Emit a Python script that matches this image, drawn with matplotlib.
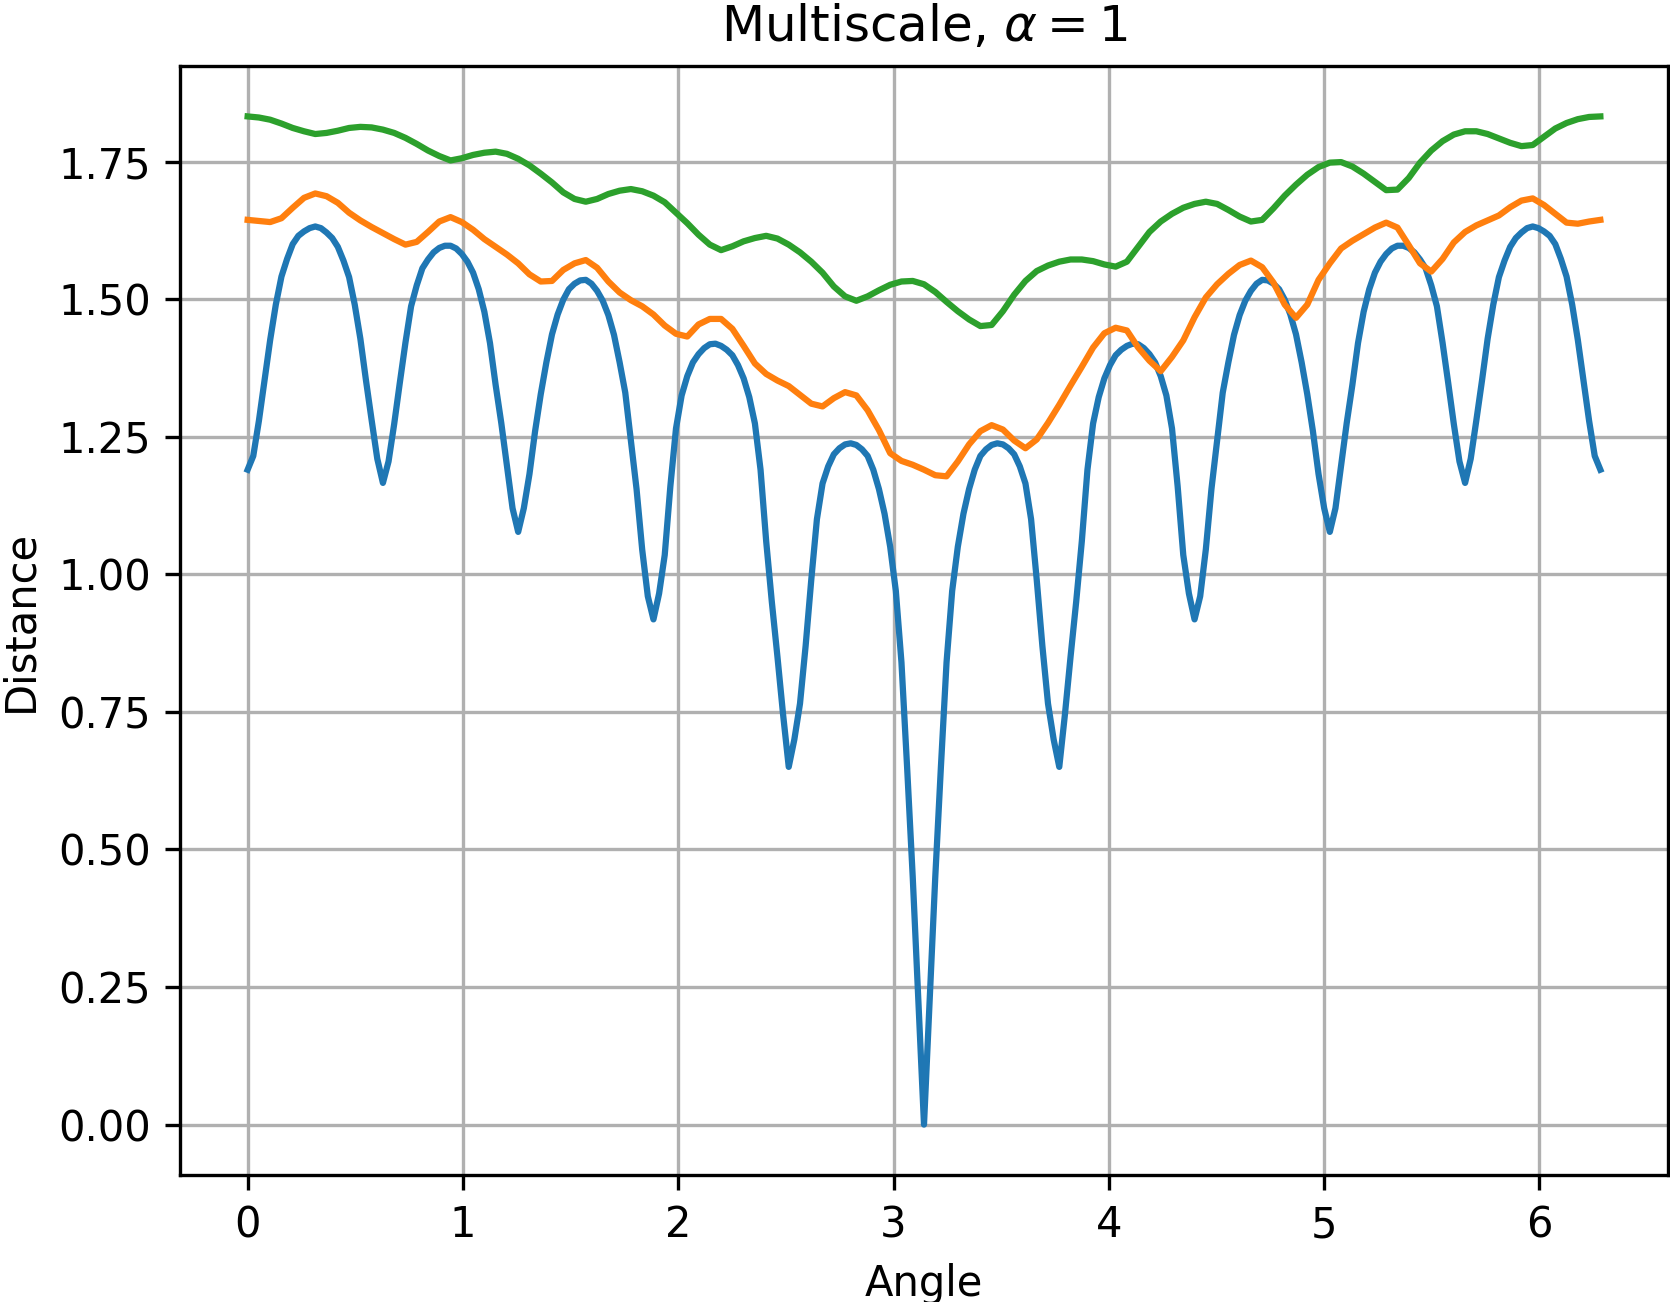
import numpy as np
import matplotlib
matplotlib.use("Agg")
import matplotlib.pyplot as plt

# angle grids over [0, 2*pi]
angles_fine = np.linspace(0, 2 * np.pi, 241)   # used for the blue curve
angles = np.linspace(0, 2 * np.pi, 121)        # used for orange / green

blue = [1.190, 1.215, 1.279, 1.352, 1.426, 1.490, 1.541, 1.573, 1.600, 1.615,
        1.623, 1.629, 1.632, 1.629, 1.621, 1.611, 1.595, 1.570, 1.540, 1.490,
        1.428, 1.352, 1.280, 1.210, 1.166, 1.205, 1.273, 1.348, 1.421, 1.487,
        1.525, 1.556, 1.572, 1.585, 1.593, 1.597, 1.597, 1.592, 1.582, 1.568,
        1.548, 1.518, 1.477, 1.420, 1.344, 1.275, 1.198, 1.120, 1.077, 1.120,
        1.182, 1.260, 1.327, 1.385, 1.436, 1.472, 1.499, 1.518, 1.528, 1.534,
        1.535, 1.528, 1.515, 1.497, 1.471, 1.435, 1.385, 1.330, 1.243, 1.155,
        1.045, 0.960, 0.918, 0.965, 1.035, 1.160, 1.265, 1.325, 1.360, 1.385,
        1.400, 1.411, 1.418, 1.419, 1.415, 1.408, 1.398, 1.380, 1.356, 1.322,
        1.274, 1.190, 1.060, 0.950, 0.850, 0.745, 0.650, 0.700, 0.765, 0.870,
        0.990, 1.100, 1.165, 1.196, 1.218, 1.229, 1.236, 1.238, 1.235, 1.227,
        1.215, 1.190, 1.155, 1.110, 1.050, 0.970, 0.840, 0.650, 0.450, 0.225,
        0.000,
        0.225, 0.450, 0.650, 0.840, 0.970, 1.050, 1.110, 1.155, 1.190, 1.215,
        1.227, 1.235, 1.238, 1.236, 1.229, 1.218, 1.196, 1.165, 1.100, 0.990,
        0.870, 0.765, 0.700, 0.650, 0.745, 0.850, 0.950, 1.060, 1.190, 1.274,
        1.322, 1.356, 1.380, 1.398, 1.408, 1.415, 1.419, 1.418, 1.411, 1.400,
        1.385, 1.360, 1.325, 1.265, 1.160, 1.035, 0.965, 0.918, 0.960, 1.045,
        1.155, 1.243, 1.330, 1.385, 1.435, 1.471, 1.497, 1.515, 1.528, 1.535,
        1.534, 1.528, 1.518, 1.499, 1.472, 1.436, 1.385, 1.327, 1.260, 1.182,
        1.120, 1.077, 1.120, 1.198, 1.275, 1.344, 1.420, 1.477, 1.518, 1.548,
        1.568, 1.582, 1.592, 1.597, 1.597, 1.593, 1.585, 1.572, 1.556, 1.525,
        1.487, 1.421, 1.348, 1.273, 1.205, 1.166, 1.210, 1.280, 1.352, 1.428,
        1.490, 1.540, 1.570, 1.595, 1.611, 1.621, 1.629, 1.632, 1.629, 1.623,
        1.615, 1.600, 1.573, 1.541, 1.490, 1.426, 1.352, 1.279, 1.215, 1.190]

orange = [1.644, 1.642, 1.640, 1.647, 1.666, 1.684, 1.692, 1.687, 1.675, 1.657,
          1.643, 1.631, 1.620, 1.609, 1.599, 1.604, 1.622, 1.641, 1.649, 1.640,
          1.626, 1.609, 1.595, 1.581, 1.565, 1.545, 1.532, 1.533, 1.553, 1.565,
          1.571, 1.557, 1.532, 1.512, 1.498, 1.487, 1.472, 1.452, 1.437, 1.432,
          1.454, 1.464, 1.464, 1.446, 1.415, 1.383, 1.364, 1.352, 1.342, 1.326,
          1.310, 1.305, 1.320, 1.331, 1.325, 1.298, 1.262, 1.220, 1.206, 1.199,
          1.190, 1.180, 1.178, 1.205, 1.236, 1.260, 1.271, 1.263, 1.243, 1.229,
          1.245, 1.275, 1.308, 1.343, 1.377, 1.412, 1.438, 1.448, 1.443, 1.412,
          1.388, 1.369, 1.395, 1.425, 1.467, 1.503, 1.527, 1.546, 1.562, 1.570,
          1.558, 1.530, 1.490, 1.466, 1.490, 1.535, 1.565, 1.592, 1.606, 1.618,
          1.630, 1.639, 1.630, 1.598, 1.565, 1.550, 1.573, 1.603, 1.622, 1.634,
          1.643, 1.652, 1.667, 1.679, 1.683, 1.671, 1.655, 1.639, 1.637, 1.641,
          1.644]

green = [1.832, 1.830, 1.826, 1.819, 1.811, 1.805, 1.800, 1.802, 1.806, 1.811,
         1.813, 1.812, 1.808, 1.802, 1.793, 1.782, 1.770, 1.760, 1.752, 1.756,
         1.762, 1.766, 1.768, 1.764, 1.755, 1.743, 1.728, 1.712, 1.694, 1.682,
         1.677, 1.682, 1.691, 1.697, 1.700, 1.696, 1.688, 1.676, 1.657, 1.638,
         1.617, 1.599, 1.589, 1.596, 1.605, 1.611, 1.615, 1.610, 1.599, 1.585,
         1.568, 1.548, 1.523, 1.505, 1.497, 1.505, 1.516, 1.526, 1.532, 1.533,
         1.527, 1.513, 1.495, 1.478, 1.463, 1.451, 1.453, 1.478, 1.508, 1.533,
         1.551, 1.561, 1.568, 1.572, 1.572, 1.569, 1.563, 1.559, 1.568, 1.595,
         1.622, 1.641, 1.655, 1.666, 1.673, 1.677, 1.673, 1.662, 1.650, 1.641,
         1.644, 1.665, 1.688, 1.708, 1.726, 1.740, 1.748, 1.749, 1.741, 1.728,
         1.713, 1.698, 1.699, 1.720, 1.748, 1.770, 1.787, 1.799, 1.805, 1.805,
         1.800, 1.792, 1.784, 1.778, 1.780, 1.795, 1.810, 1.820, 1.827, 1.831,
         1.832]

title = r"Multiscale, $\alpha = 1$"
xlabel = "Angle"
ylabel = "Distance"

fig = plt.figure(figsize=(1670 / 300, 1302 / 300), dpi=300)
ax = fig.add_axes([180 / 1670, 127 / 1302, 1488 / 1670, 1109 / 1302])
ax.plot(angles_fine, blue, color="C0")
ax.plot(angles, orange, color="C1")
ax.plot(angles, green, color="C2")
ax.grid(True)
ax.set_title(title)
ax.set_xlabel(xlabel)
ax.set_ylabel(ylabel)
fig.savefig("out.png", dpi=300)
